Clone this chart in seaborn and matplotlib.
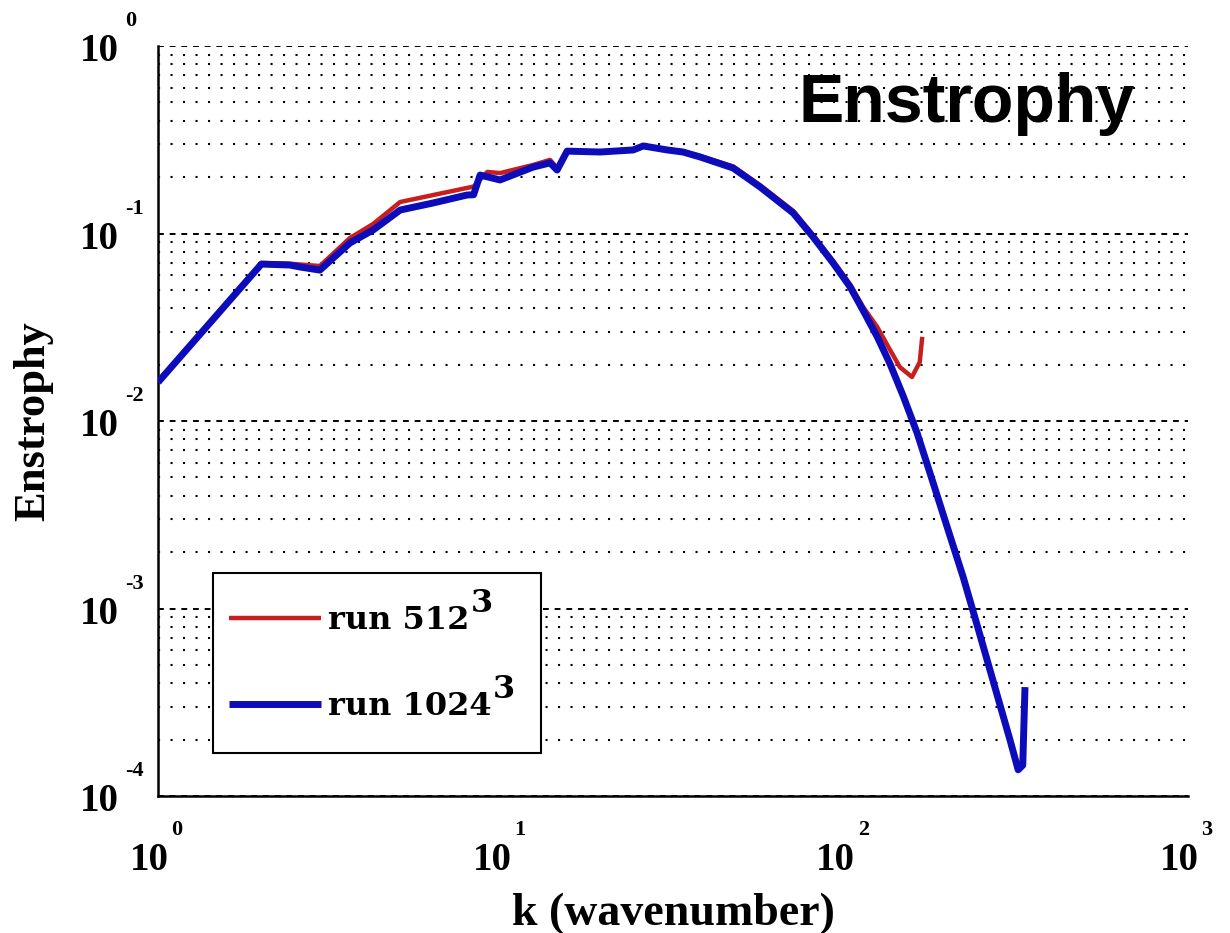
import numpy as np
import pandas as pd
import matplotlib
matplotlib.use("Agg")
import matplotlib.pyplot as plt
import matplotlib.transforms as mtransforms
from matplotlib.lines import Line2D
from matplotlib.patches import Rectangle
from matplotlib.ticker import LogLocator, NullFormatter
from matplotlib.font_manager import FontProperties
import seaborn as sns

# ---------------- data ----------------
k_512 = [1, 2, 2.42, 2.96, 3.62, 4.23, 5.07, 6.33, 7.94, 8.3, 9.1, 9.91, 12.37,
         13.86, 14.53, 15.54, 19.39, 24.2, 25.9, 30.4, 33.8, 37.9, 47.3, 56.7,
         70.8, 80.9, 92.5, 103.7, 113.2, 124.4, 135.6, 144.7, 157, 165.4, 168.2]
E_512 = [0.0161, 0.0696, 0.069, 0.0671, 0.0946, 0.1124, 0.1472, 0.1604, 0.175,
         0.178, 0.213, 0.210, 0.232, 0.247, 0.2235, 0.275, 0.274, 0.281, 0.294,
         0.281, 0.275, 0.259, 0.228, 0.181, 0.132, 0.098, 0.0715, 0.0535, 0.0405,
         0.0317, 0.0239, 0.0194, 0.01717, 0.02064, 0.0281]

k_1024 = [1, 2, 2.42, 2.59, 2.96, 3.62, 4.23, 5.07, 6.33, 7.94, 8.3, 8.67, 9.91,
          12.37, 13.86, 14.53, 15.54, 19.39, 24.2, 25.9, 30.4, 33.8, 37.9, 47.3,
          56.7, 70.8, 80.9, 92.5, 103.7, 113.2, 124.4, 135.6, 148, 162.5, 181,
          198.8, 221.3, 243, 259.9, 277.9, 303, 320, 330, 335]
E_1024 = [0.0161, 0.0687, 0.0679, 0.0663, 0.0638, 0.0890, 0.1044, 0.1334, 0.1455,
          0.1604, 0.161, 0.205, 0.193, 0.226, 0.238, 0.218, 0.275, 0.272, 0.279,
          0.293, 0.279, 0.272, 0.256, 0.2235, 0.177, 0.1286, 0.0958, 0.0696,
          0.0519, 0.0388, 0.0281, 0.0201, 0.0136, 0.00863, 0.00467, 0.00272,
          0.001472, 0.000816, 0.000531, 0.000346, 0.000199, 0.000138, 0.000146,
          0.000381]

series_labels = ["run 512", "run 1024"]
label_exponent = "3"
x_tick_exponents = [0, 1, 2, 3]
y_tick_exponents = [0, -1, -2, -3, -4]
title_text = "Enstrophy"
x_label = "k (wavenumber)"
y_label = "Enstrophy"

# ---------------- style ----------------
sns.set_style("white")
plt.rcParams["font.family"] = ["Liberation Serif", "DejaVu Serif"]
plt.rcParams["font.weight"] = "bold"
plt.rcParams["text.color"] = "black"
plt.rcParams["axes.labelcolor"] = "black"
plt.rcParams["lines.solid_capstyle"] = "butt"

RED = "#c81e1e"
BLUE = "#0c0cba"

df = pd.concat([
    pd.DataFrame({"k": k_512, "E": E_512, "run": series_labels[0]}),
    pd.DataFrame({"k": k_1024, "E": E_1024, "run": series_labels[1]}),
], ignore_index=True)

fig = plt.figure(figsize=(12.3, 9.33), dpi=100)
ax = fig.add_axes([0.1285, 0.1468, 0.8374, 0.8039])

sns.lineplot(data=df[df["run"] == series_labels[0]], x="k", y="E", color=RED,
             lw=3.2, sort=False, estimator=None, ax=ax, legend=False, zorder=3)
sns.lineplot(data=df[df["run"] == series_labels[1]], x="k", y="E", color=BLUE,
             lw=5.0, sort=False, estimator=None, ax=ax, legend=False, zorder=4)

ax.set_xscale("log")
ax.set_yscale("log")
ax.set_xlim(1, 1000)
ax.set_ylim(1e-4, 1)

ax.xaxis.set_major_locator(LogLocator(base=10, numticks=10))
ax.xaxis.set_minor_locator(LogLocator(base=10, subs=np.arange(2, 10), numticks=40))
ax.yaxis.set_major_locator(LogLocator(base=10, numticks=10))
ax.yaxis.set_minor_locator(LogLocator(base=10, subs=np.arange(2, 10), numticks=40))
ax.xaxis.set_minor_formatter(NullFormatter())
ax.yaxis.set_minor_formatter(NullFormatter())

ax.grid(False)
ax.yaxis.grid(True, which="major", color="black", lw=1.4, linestyle=(0, (3, 3)), zorder=1)
ax.yaxis.grid(True, which="minor", color="black", lw=1.5, linestyle=(0, (1, 5)), zorder=1)

for s in ["top", "right"]:
    ax.spines[s].set_visible(False)
for s in ["left", "bottom"]:
    ax.spines[s].set_color("black")
    ax.spines[s].set_linewidth(1.8)

ax.tick_params(axis="both", which="both", direction="in", labelleft=False,
               labelbottom=False, color="black", width=1.4)
ax.tick_params(axis="y", which="major", length=6)
ax.tick_params(axis="y", which="minor", length=5.5)
ax.tick_params(axis="x", which="major", length=9.5)
ax.tick_params(axis="x", which="minor", length=6)


def off(dx_px, dy_px):
    return mtransforms.ScaledTranslation(dx_px / fig.dpi, dy_px / fig.dpi, fig.dpi_scale_trans)


serif = ["Liberation Serif", "DejaVu Serif"]
ytrans = mtransforms.blended_transform_factory(ax.transAxes, ax.transData)
for e in y_tick_exponents:
    v = 10.0 ** e
    ax.text(0, v, "10", transform=ytrans + off(-39, -15), ha="right", va="baseline",
            fontsize=28, fontweight="bold", family=serif, clip_on=False)
    ax.text(0, v, f"{e}", transform=ytrans + off(-33, 20), ha="left", va="baseline",
            fontsize=16, fontweight="bold", family=serif, clip_on=False)

xtrans = mtransforms.blended_transform_factory(ax.transData, ax.transAxes)
for e in x_tick_exponents:
    v = 10.0 ** e
    ax.text(v, 0, "10", transform=xtrans + off(-9, -74), ha="center", va="baseline",
            fontsize=28, fontweight="bold", family=serif, clip_on=False)
    ax.text(v, 0, f"{e}", transform=xtrans + off(13, -39), ha="left", va="baseline",
            fontsize=16, fontweight="bold", family=serif, clip_on=False)

# axis labels
ax.set_xlabel(x_label, fontsize=33, fontweight="bold", family=serif)
ax.xaxis.set_label_coords(0.5, -0.129)
ax.set_ylabel(y_label, fontsize=32, fontweight="bold", family=serif)
ax.yaxis.set_label_coords(-0.102, 0.5)

# title inside the plot
ax.text(0.9485, 0.899, title_text, transform=ax.transAxes, ha="right", va="baseline",
        fontsize=49, fontweight="bold", family=["Liberation Sans", "DejaVu Sans"],
        color="black", zorder=6)

# legend: frame drawn as a box, entries from the legend machinery
ax.add_patch(Rectangle((0.0534, 0.0573), 0.3184, 0.24, transform=ax.transAxes,
                       facecolor="white", edgecolor="black", lw=1.5, zorder=7))
handles = [Line2D([], [], color=RED, lw=3.2), Line2D([], [], color=BLUE, lw=5.0)]
leg_font = FontProperties(family=["DejaVu Serif"], weight="bold", size=23)
leg = ax.legend(handles, series_labels, loc="upper left",
                bbox_to_anchor=(0.0427, 0.2906), borderaxespad=0, prop=leg_font,
                handlelength=2.88, handletextpad=0.22, borderpad=0.85,
                labelspacing=1.73, frameon=False)
leg.set_zorder(8)

fig.canvas.draw()
renderer = fig.canvas.get_renderer()
for txt, lab in zip(leg.get_texts(), series_labels):
    core = txt.get_window_extent(renderer)
    w, h, d = renderer.get_text_width_height_descent(lab, leg_font, ismath=False)
    baseline = core.y0 + d
    digit_h = 0.73 * leg_font.get_size_in_points() * fig.dpi / 72
    fig.text(core.x1 + 1, baseline + digit_h + 1, label_exponent,
             transform=mtransforms.IdentityTransform(), ha="left", va="baseline",
             fontproperties=leg_font, color="black", zorder=9)

fig.savefig("out.png", dpi=100, facecolor="white")
